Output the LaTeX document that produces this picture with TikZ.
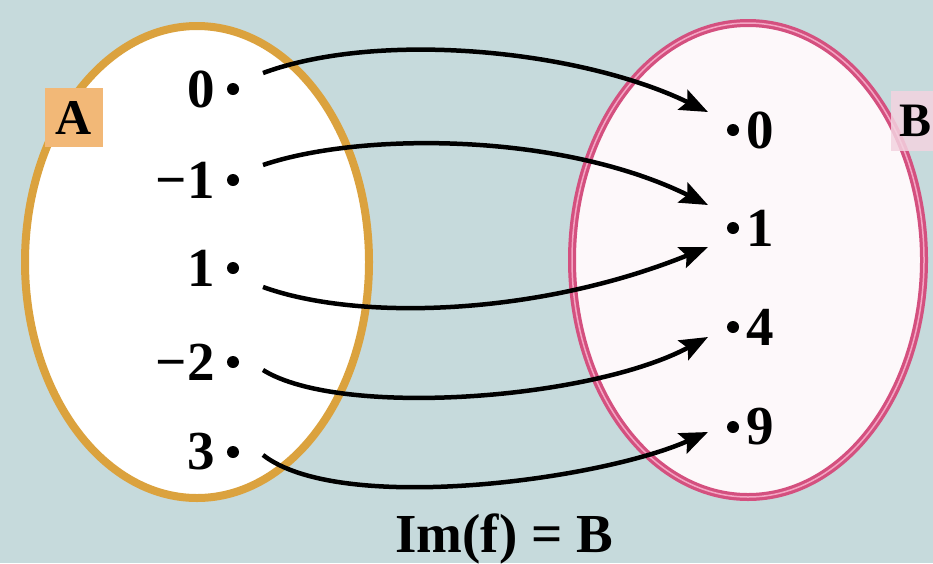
\documentclass[tikz,border=0pt]{standalone}
\usepackage{fontspec}
\setmainfont{Liberation Serif}
\usetikzlibrary{arrows.meta,calc}
\definecolor{bg}{HTML}{C6DADC}
\definecolor{orangeC}{HTML}{DBA23E}
\definecolor{Abox}{HTML}{F2B877}
\definecolor{pinkC}{HTML}{D4507F}
\definecolor{pinkL}{HTML}{F4A6C4}
\definecolor{pinkFill}{HTML}{FDF8FA}
\definecolor{Bbox}{HTML}{F3D3E0}
\begin{document}
\begin{tikzpicture}[x=1pt,y=-1pt,
  dot/.style={circle,fill=black,inner sep=0pt,minimum size=12pt},
  lbl/.style={font=\fontsize{55}{55}\selectfont\bfseries,inner sep=0pt},
  conn/.style={line width=4.5pt,-{Stealth[length=28pt,width=22pt,inset=5pt]}},
  setA/.style={draw=orangeC,line width=8pt,fill=white},
  setB/.style={draw=pinkC,line width=8pt,fill=pinkFill}]
\fill[bg] (0,0) rectangle (933,563);
\useasboundingbox (0,0) rectangle (933,563);
% sets
\draw[setA] (197,262) ellipse [x radius=172, y radius=236];
\draw[setB] (748,260) ellipse [x radius=176, y radius=237];
\draw[pinkL,line width=1.5pt] (748,260) ellipse [x radius=176, y radius=237];
% set labels
\node[fill=Abox,minimum width=58pt,minimum height=59pt,inner sep=0pt,
      font=\fontsize{50}{50}\selectfont\bfseries] (labA) at (74,117.5) {A};
\node[fill=Bbox,fill opacity=0.85,text opacity=1,inner xsep=8pt,inner ysep=14pt,anchor=west,
      font=\fontsize{48}{48}\selectfont\bfseries] (labB) at (891,121) {B};
% domain points
\node[dot] (a0) at (233,89) {};
\node[dot] (a1) at (233,180) {};
\node[dot] (a2) at (233,268) {};
\node[dot] (a3) at (233,362) {};
\node[dot] (a4) at (233,452) {};
\node[lbl,anchor=east] (la0) at ([xshift=-12pt]a0.west) {0};
\node[lbl,anchor=east] (la1) at ([xshift=-12pt]a1.west) {−1};
\node[lbl,anchor=east] (la2) at ([xshift=-12pt]a2.west) {1};
\node[lbl,anchor=east] (la3) at ([xshift=-12pt]a3.west) {−2};
\node[lbl,anchor=east] (la4) at ([xshift=-12pt]a4.west) {3};
% codomain points
\node[dot] (b0) at (733,130) {};
\node[dot] (b1) at (733,228) {};
\node[dot] (b4) at (733,327) {};
\node[dot] (b9) at (733,427) {};
\node[lbl,anchor=west] (lb0) at ([xshift=7pt]b0.east) {0};
\node[lbl,anchor=west] (lb1) at ([xshift=7pt]b1.east) {1};
\node[lbl,anchor=west] (lb4) at ([xshift=7pt]b4.east) {4};
\node[lbl,anchor=west] (lb9) at ([xshift=7pt]b9.east) {9};
% mapping arrows
\draw[conn] ($(a0)+(30,-16)$) .. controls (380,30) and (580,50) .. ($(b0)+(-25,-18)$);
\draw[conn] ($(a1)+(30,-15)$) .. controls (360,132) and (560,132) .. ($(b1)+(-25,-23)$);
\draw[conn] ($(a2)+(30,19)$) .. controls (360,322) and (540,315) .. ($(b1)+(-25,19)$);
\draw[conn] ($(a3)+(30,8)$) .. controls (340,418) and (590,400) .. ($(b4)+(-25,10)$);
\draw[conn] ($(a4)+(30,3)$) .. controls (340,515) and (600,480) .. ($(b9)+(-25,5)$);
% caption
\node[lbl,anchor=base] (im) at (504,552) {Im(f) = B};
\end{tikzpicture}
\end{document}
